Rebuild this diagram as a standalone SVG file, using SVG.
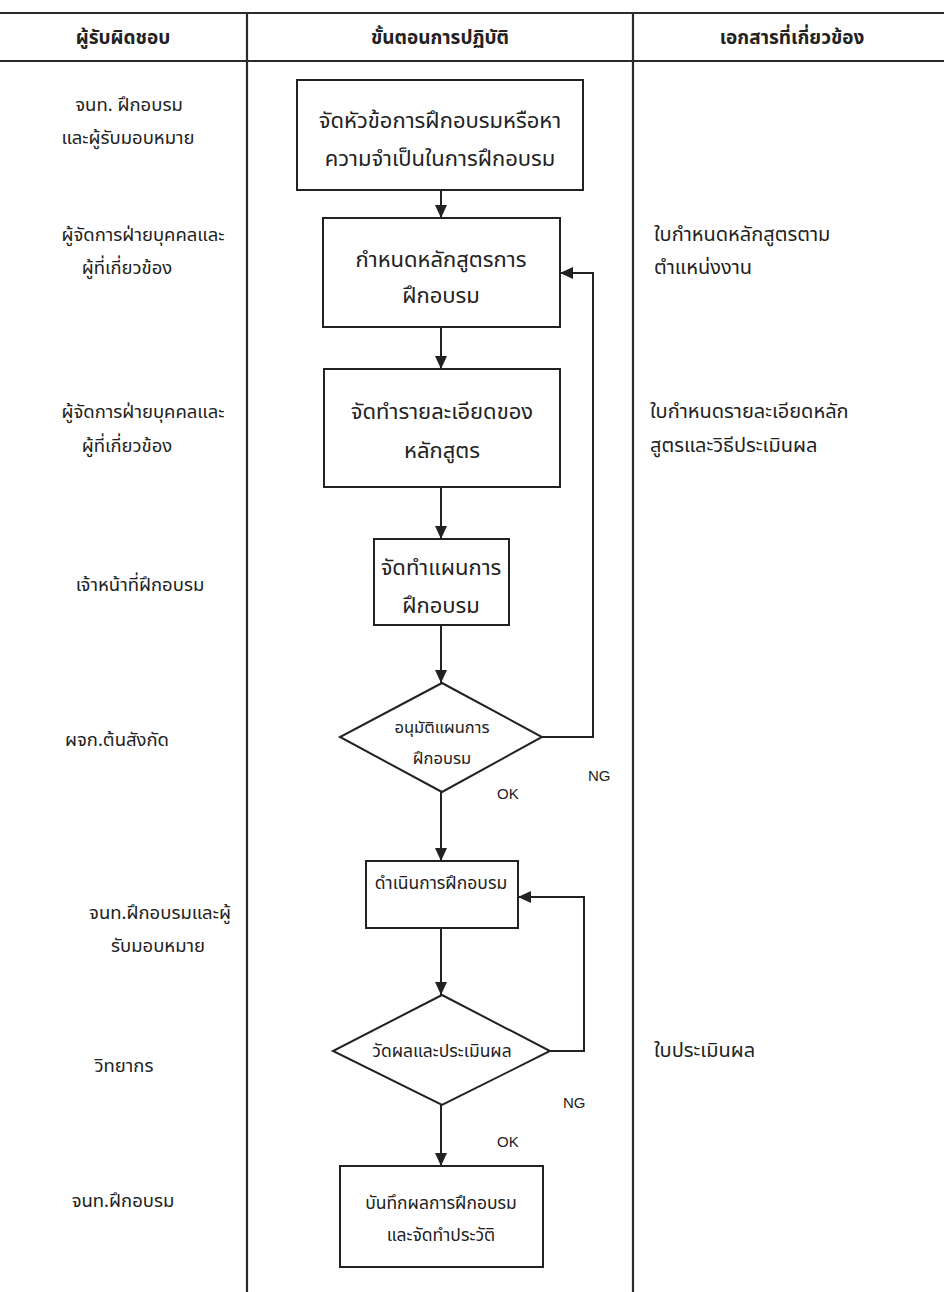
<svg xmlns="http://www.w3.org/2000/svg" width="944" height="1292" viewBox="0 0 944 1292">
  <style>
    text { font-family: "Noto Sans", "Noto Sans Thai", "DejaVu Sans", sans-serif; fill: #222; }
    .hdr { font-size: 19px; font-weight: bold; text-anchor: middle; }
    .who { font-size: 18.5px; text-anchor: middle; }
    .doc { font-size: 20px; }
    .big { font-size: 22px; text-anchor: middle; }
    .mid { font-size: 16.5px; text-anchor: middle; }
    .small { font-size: 17.5px; text-anchor: middle; }
    .lbl { font-family: "Liberation Sans", Arial, sans-serif; font-size: 15px; }
    .grid { stroke: #2a2a2a; stroke-width: 2.2; fill: none; }
    .node { fill: #fff; stroke: #222; stroke-width: 2; }
    .conn { fill: none; stroke: #222; stroke-width: 2; }
  </style>
  <defs>
    <marker id="arrow" markerUnits="userSpaceOnUse" markerWidth="14" markerHeight="14" viewBox="0 0 14 14" refX="13" refY="7" orient="auto">
      <path d="M0,1 L13,7 L0,13 Z" fill="#222"/>
    </marker>
  </defs>

  <rect width="944" height="1292" fill="#fff"/>

  <!-- table grid -->
  <g id="table">
    <line class="grid" x1="0" y1="13" x2="944" y2="13"/>
    <line class="grid" x1="0" y1="61" x2="944" y2="61"/>
    <line class="grid" x1="247" y1="13" x2="247" y2="1292"/>
    <line class="grid" x1="633" y1="13" x2="633" y2="1292"/>
  </g>

  <!-- column headers -->
  <g id="headers">
    <text class="hdr" x="123" y="44">ผู้รับผิดชอบ</text>
    <text class="hdr" x="440" y="44">ขั้นตอนการปฏิบัติ</text>
    <text class="hdr" x="792" y="44">เอกสารที่เกี่ยวข้อง</text>
  </g>

  <!-- responsible parties -->
  <g id="responsible">
    <text class="who" x="129" y="111">จนท. ฝึกอบรม</text>
    <text class="who" x="128" y="144">และผู้รับมอบหมาย</text>
    <text class="who" x="143" y="241">ผู้จัดการฝ่ายบุคคลและ</text>
    <text class="who" x="127" y="274">ผู้ที่เกี่ยวข้อง</text>
    <text class="who" x="143" y="418">ผู้จัดการฝ่ายบุคคลและ</text>
    <text class="who" x="127" y="452">ผู้ที่เกี่ยวข้อง</text>
    <text class="who" x="140" y="591">เจ้าหน้าที่ฝึกอบรม</text>
    <text class="who" x="117" y="746">ผจก.ต้นสังกัด</text>
    <text class="who" x="160" y="919">จนท.ฝึกอบรมและผู้</text>
    <text class="who" x="158" y="952">รับมอบหมาย</text>
    <text class="who" x="124" y="1072">วิทยากร</text>
    <text class="who" x="123" y="1207">จนท.ฝึกอบรม</text>
  </g>

  <!-- related documents -->
  <g id="documents">
    <text class="doc" x="654" y="241">ใบกำหนดหลักสูตรตาม</text>
    <text class="doc" x="654" y="274">ตำแหน่งงาน</text>
    <text class="doc" x="650" y="418">ใบกำหนดรายละเอียดหลัก</text>
    <text class="doc" x="650" y="452">สูตรและวิธีประเมินผล</text>
    <text class="doc" x="654" y="1057">ใบประเมินผล</text>
  </g>

  <!-- connectors -->
  <g id="connectors">
    <line class="conn" x1="441" y1="190" x2="441" y2="218" marker-end="url(#arrow)"/>
    <line class="conn" x1="441" y1="327" x2="441" y2="369" marker-end="url(#arrow)"/>
    <line class="conn" x1="441" y1="487" x2="441" y2="539" marker-end="url(#arrow)"/>
    <line class="conn" x1="441" y1="625" x2="441" y2="683" marker-end="url(#arrow)"/>
    <line class="conn" x1="441" y1="792" x2="441" y2="861" marker-end="url(#arrow)"/>
    <polyline class="conn" points="542,737 593,737 593,273 560,273" marker-end="url(#arrow)"/>
    <line class="conn" x1="441" y1="928" x2="441" y2="995" marker-end="url(#arrow)"/>
    <polyline class="conn" points="550,1051 584,1051 584,897 518,897" marker-end="url(#arrow)"/>
    <line class="conn" x1="441" y1="1105" x2="441" y2="1166" marker-end="url(#arrow)"/>
    <text class="lbl" x="588" y="781">NG</text>
    <text class="lbl" x="497" y="799">OK</text>
    <text class="lbl" x="563" y="1108">NG</text>
    <text class="lbl" x="497" y="1147">OK</text>
  </g>

  <!-- process steps -->
  <g id="step1">
    <rect class="node" x="297" y="80" width="286" height="110"/>
    <text class="big" x="440" y="128">จัดหัวข้อการฝึกอบรมหรือหา</text>
    <text class="big" x="440" y="166">ความจำเป็นในการฝึกอบรม</text>
  </g>
  <g id="step2">
    <rect class="node" x="323" y="218" width="237" height="109"/>
    <text class="big" x="441" y="267">กำหนดหลักสูตรการ</text>
    <text class="big" x="441" y="303">ฝึกอบรม</text>
  </g>
  <g id="step3">
    <rect class="node" x="324" y="369" width="236" height="118"/>
    <text class="big" x="442" y="419">จัดทำรายละเอียดของ</text>
    <text class="big" x="442" y="458">หลักสูตร</text>
  </g>
  <g id="step4">
    <rect class="node" x="374" y="539" width="135" height="86"/>
    <text class="big" x="441" y="575">จัดทำแผนการ</text>
    <text class="big" x="441" y="613">ฝึกอบรม</text>
  </g>
  <g id="decision1">
    <polygon class="node" points="442,683 542,737 442,792 340,737"/>
    <text class="mid" x="442" y="733">อนุมัติแผนการ</text>
    <text class="mid" x="442" y="764">ฝึกอบรม</text>
  </g>
  <g id="step5">
    <rect class="node" x="366" y="861" width="152" height="67"/>
    <text class="small" x="441" y="889">ดำเนินการฝึกอบรม</text>
  </g>
  <g id="decision2">
    <polygon class="node" points="442,995 550,1051 442,1105 333,1051"/>
    <text class="small" x="442" y="1057">วัดผลและประเมินผล</text>
  </g>
  <g id="step6">
    <rect class="node" x="340" y="1166" width="203" height="101"/>
    <text class="small" x="441" y="1209">บันทึกผลการฝึกอบรม</text>
    <text class="small" x="441" y="1241">และจัดทำประวัติ</text>
  </g>
</svg>
